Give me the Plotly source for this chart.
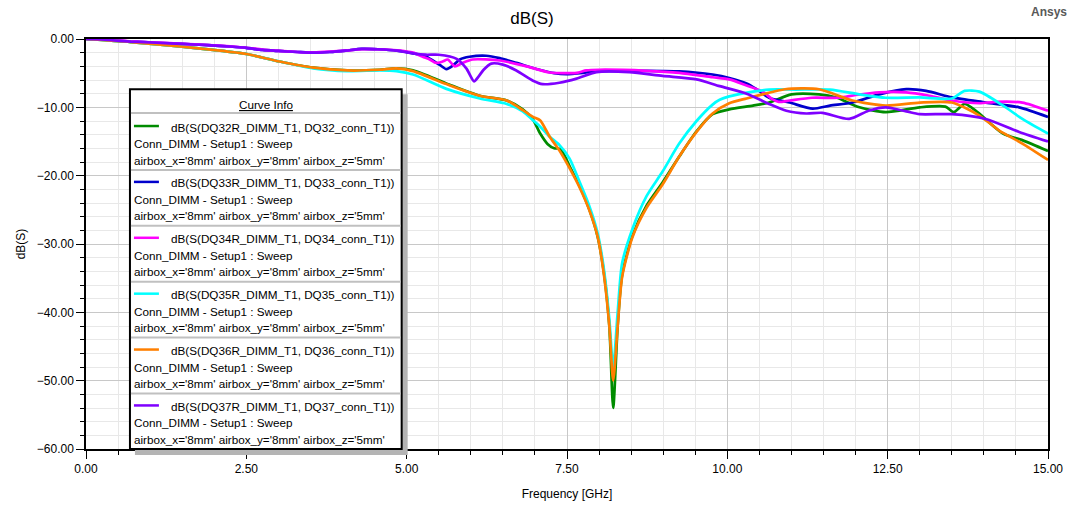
import plotly.graph_objects as go

# ---------------- data ----------------
series_names = [
    "dB(S(DQ32R_DIMM_T1, DQ32_conn_T1))",
    "dB(S(DQ33R_DIMM_T1, DQ33_conn_T1))",
    "dB(S(DQ34R_DIMM_T1, DQ34_conn_T1))",
    "dB(S(DQ35R_DIMM_T1, DQ35_conn_T1))",
    "dB(S(DQ36R_DIMM_T1, DQ36_conn_T1))",
    "dB(S(DQ37R_DIMM_T1, DQ37_conn_T1))",
]
setup_line = "Conn_DIMM - Setup1 : Sweep"
param_line = "airbox_x='8mm' airbox_y='8mm' airbox_z='5mm'"

f_dq32 = [0, 0.7, 1.46, 1.98, 2.5, 3.02, 3.54, 4.07, 4.58, 4.84, 5.1, 5.62, 6.14, 6.56, 6.81, 6.97,
          7.08, 7.2, 7.3, 7.4, 7.54, 7.7, 7.85, 7.98, 8.08, 8.16, 8.22, 8.29, 8.36, 8.52, 8.74, 8.99,
          9.25, 9.52, 9.77, 10.03, 10.4, 10.65, 11.0, 11.43, 11.7, 12.06, 12.47, 13.0, 13.4, 13.53,
          13.7, 13.9, 14.3, 14.6, 15.0]
db_dq32 = [0, -0.45, -1.1, -1.6, -2.2, -3.3, -4.2, -4.6, -4.5, -4.3, -4.6, -6.5, -8.3, -9.0, -10.3, -11.8,
           -13.8, -15.4, -16.0, -16.1, -18.6, -21.6, -25.0, -29.0, -34.5, -42.0, -54.0, -42.0, -34.5, -28.8, -24.4, -21.0,
           -17.2, -13.5, -11.0, -10.3, -9.75, -9.3, -8.1, -8.1, -8.55, -10.0, -10.7, -10.0, -9.9, -10.7,
           -9.5, -10.7, -13.85, -14.8, -16.4]

f_dq33 = [0, 0.35, 0.7, 1.1, 1.5, 1.9, 2.25, 2.5, 2.75, 3.0, 3.3, 3.55, 3.8, 4.05, 4.3, 4.55, 4.85, 5.1,
          5.3, 5.51, 5.62, 5.72, 5.83, 5.98, 6.24, 6.45, 6.71, 7.07, 7.3, 7.49, 7.8, 8.0, 8.5, 9.0, 9.25,
          9.5, 9.77, 10.03, 10.3, 10.45, 10.65, 10.97, 11.33, 11.6, 11.95, 12.37, 12.79, 13.1, 13.5, 14.03,
          14.55, 15.0]
db_dq33 = [0, -0.15, -0.38, -0.55, -0.72, -0.9, -1.1, -1.3, -1.6, -1.75, -1.9, -2.0, -1.9, -1.7, -1.45, -1.5, -1.7, -2.1,
           -2.55, -3.75, -4.4, -3.9, -3.0, -2.6, -2.45, -2.8, -3.5, -4.5, -5.0, -5.15, -4.9, -4.7, -4.65, -4.7, -4.75,
           -4.9, -5.2, -5.7, -6.5, -7.3, -8.6, -9.3, -10.2, -9.75, -9.3, -8.1, -7.35, -7.6, -8.55, -9.3,
           -10.0, -11.4]

f_dq34 = [0, 0.35, 0.7, 1.1, 1.5, 1.9, 2.25, 2.5, 2.75, 3.0, 3.3, 3.55, 3.8, 4.05, 4.3, 4.55, 4.85, 5.1,
          5.25, 5.36, 5.46, 5.56, 5.64, 5.75, 5.87, 6.03, 6.45, 6.87, 7.23, 7.65, 7.8, 8.0, 8.74, 9.25,
          9.77, 10.03, 10.3, 10.55, 10.7, 10.8, 10.97, 11.32, 11.74, 12.0, 12.37, 12.79, 13.15, 13.5,
          13.93, 14.19, 14.6, 15.0]
db_dq34 = [0, -0.12, -0.35, -0.52, -0.7, -0.88, -1.08, -1.28, -1.55, -1.75, -1.9, -1.95, -1.85, -1.7, -1.5, -1.5, -1.65, -2.0,
           -2.6, -3.0, -3.5, -3.3, -3.0, -4.0, -3.5, -3.0, -3.15, -4.0, -4.9, -4.95, -4.6, -4.5, -4.65, -4.95,
           -5.6, -5.9, -6.8, -7.7, -8.8, -9.2, -9.0, -8.6, -8.6, -8.2, -7.8, -7.8, -8.3, -9.0,
           -9.4, -9.2, -9.3, -10.5]

f_dq35 = [0, 0.7, 1.46, 1.98, 2.5, 3.02, 3.54, 4.07, 4.58, 4.84, 5.1, 5.62, 6.14, 6.56, 6.81, 6.97,
          7.08, 7.23, 7.38, 7.54, 7.7, 7.85, 7.98, 8.08, 8.16, 8.22, 8.29, 8.36, 8.52, 8.74, 8.99, 9.25,
          9.52, 9.77, 9.88, 10.03, 10.4, 10.65, 11.07, 11.6, 12.06, 12.47, 13.0, 13.5, 13.7, 13.93, 14.3,
          14.6, 15.0]
db_dq35 = [0, -0.45, -1.1, -1.6, -2.2, -3.3, -4.3, -4.7, -4.6, -4.7, -5.2, -7.3, -8.7, -9.5, -10.6, -11.9,
           -12.8, -14.3, -15.5, -17.5, -21.0, -24.5, -28.5, -34.0, -41.0, -48.0, -40.0, -32.8, -27.8, -23.0, -19.4, -15.3,
           -12.0, -9.6, -8.9, -8.4, -7.7, -7.4, -7.4, -7.4, -8.1, -8.6, -8.55, -8.7, -7.6, -7.7, -9.75,
           -11.7, -13.85]

f_dq36 = [0, 0.7, 1.46, 1.98, 2.5, 3.02, 3.54, 4.07, 4.58, 4.84, 5.1, 5.62, 6.14, 6.56, 6.81, 6.97,
          7.08, 7.23, 7.38, 7.54, 7.7, 7.85, 7.98, 8.08, 8.16, 8.22, 8.29, 8.36, 8.52, 8.74, 8.99, 9.25,
          9.52, 9.77, 10.03, 10.3, 10.55, 10.9, 11.43, 11.95, 12.47, 13.0, 13.5, 13.93, 14.24, 14.6, 15.0]
db_dq36 = [0, -0.45, -1.1, -1.6, -2.2, -3.3, -4.2, -4.6, -4.5, -4.3, -4.7, -6.6, -8.3, -9.0, -10.4, -11.4,
           -11.9, -14.3, -16.3, -18.9, -21.8, -25.1, -29.0, -34.8, -42.0, -50.0, -42.0, -34.8, -29.0, -24.7, -21.3, -17.2,
           -13.6, -10.9, -9.4, -8.7, -8.1, -7.35, -7.35, -9.0, -9.75, -9.3, -9.3, -11.2, -13.4, -15.3, -17.7]

f_dq37 = [0, 0.35, 0.7, 1.1, 1.5, 1.9, 2.25, 2.5, 2.75, 3.0, 3.3, 3.55, 3.8, 4.05, 4.3, 4.55, 4.85, 5.1,
          5.3, 5.5, 5.78, 5.93, 6.05, 6.12, 6.2, 6.32, 6.5, 6.71, 6.97, 7.12, 7.38, 7.65, 7.96, 8.47, 8.99,
          9.52, 9.88, 10.3, 10.65, 10.92, 11.23, 11.48, 11.9, 12.2, 12.47, 12.79, 13.0, 13.5, 14.03,
          14.55, 15.0]
db_dq37 = [0, -0.15, -0.38, -0.55, -0.72, -0.9, -1.1, -1.3, -1.6, -1.75, -1.9, -2.0, -1.9, -1.7, -1.45, -1.5, -1.7, -2.1,
           -2.3, -2.3, -2.9, -4.3, -6.2, -5.5, -4.5, -3.6, -3.75, -4.6, -6.1, -6.6, -6.4, -5.8, -4.85, -4.85, -5.4,
           -5.9, -6.9, -8.0, -9.5, -10.5, -10.9, -10.8, -11.7, -10.5, -10.0, -10.6, -11.0, -11.0, -11.7,
           -13.6, -15.0]

colors = ["#008C00", "#0000CC", "#FF00FF", "#00FFFF", "#FF7F00", "#7F00FF"]
freqs = [f_dq32, f_dq33, f_dq34, f_dq35, f_dq36, f_dq37]
values = [db_dq32, db_dq33, db_dq34, db_dq35, db_dq36, db_dq37]

x_ticks = [0, 2.5, 5, 7.5, 10, 12.5, 15]
y_ticks = [0, -10, -20, -30, -40, -50, -60]

# ---------------- layout geometry (pixels) ----------------
W, H = 1075, 511
L, R, T, B = 86, 1049, 39, 455
FONT = "Arial, Liberation Sans, sans-serif"


def px(x):
    return (x - L) / (R - L)


def py(y):
    return (B - y) / (B - T)


fig = go.Figure()
for name, fx, dy, c in zip(series_names, freqs, values, colors):
    fig.add_trace(go.Scatter(x=fx, y=dy, mode="lines", name=name,
                             line=dict(color=c, width=2.7, shape="spline", smoothing=0.7),
                             showlegend=False))

shapes = []
annotations = []

# legend box ("Curve Info")
bx0, bx1, by0, by1 = 130, 402, 90, 455
shapes.append(dict(type="rect", xref="paper", yref="paper", layer="above",
                   x0=px(bx0 + 5), x1=px(bx1 + 6), y0=py(by1 + 6), y1=py(by0 + 5),
                   fillcolor="#b4b4b4", line=dict(width=0)))
shapes.append(dict(type="rect", xref="paper", yref="paper", layer="above",
                   x0=px(bx0), x1=px(bx1), y0=py(by1), y1=py(by0),
                   fillcolor="white", line=dict(color="black", width=2)))
annotations.append(dict(xref="paper", yref="paper", x=px((bx0 + bx1) / 2), y=py(105),
                        text="<u>Curve Info</u>", showarrow=False, xanchor="center", yanchor="middle",
                        font=dict(family=FONT, size=11.7, color="black")))
shapes.append(dict(type="line", xref="paper", yref="paper", layer="above",
                   x0=px(bx0 + 1), x1=px(bx1 - 1), y0=py(114), y1=py(114),
                   line=dict(color="#c0c0c0", width=2)))

entry_h = 56.7
for i, (name, c) in enumerate(zip(series_names, colors)):
    y1 = 128.3 + i * entry_h
    shapes.append(dict(type="line", xref="paper", yref="paper", layer="above",
                       x0=px(134), x1=px(159), y0=py(y1 - 1), y1=py(y1 - 1),
                       line=dict(color=c, width=2.5)))
    annotations.append(dict(xref="paper", yref="paper", x=px(169), y=py(y1), text=name,
                            showarrow=False, xanchor="left", yanchor="middle",
                            font=dict(family=FONT, size=11.7, color="black")))
    annotations.append(dict(xref="paper", yref="paper", x=px(132), y=py(y1 + 16.8), text=setup_line,
                            showarrow=False, xanchor="left", yanchor="middle",
                            font=dict(family=FONT, size=11.7, color="black")))
    annotations.append(dict(xref="paper", yref="paper", x=px(132), y=py(y1 + 33.5), text=param_line,
                            showarrow=False, xanchor="left", yanchor="middle",
                            font=dict(family=FONT, size=11.7, color="black")))
    if i < len(series_names) - 1:
        ys = y1 + 43.5
        shapes.append(dict(type="line", xref="paper", yref="paper", layer="above",
                           x0=px(bx0 + 1), x1=px(bx1 - 1), y0=py(ys), y1=py(ys),
                           line=dict(color="#c0c0c0", width=2)))

# vendor tag
annotations.append(dict(xref="paper", yref="paper", x=px(1050), y=py(12), text="<b>Ansys</b>",
                        showarrow=False, xanchor="center", yanchor="middle",
                        font=dict(family=FONT, size=12, color="#595959")))

fig.update_layout(
    width=W, height=H,
    margin=dict(l=L, r=W - R, t=T, b=H - B, pad=0),
    paper_bgcolor="white", plot_bgcolor="white",
    font=dict(family=FONT, size=12, color="black"),
    title=dict(text="dB(S)", x=532 / W, xref="container", xanchor="center",
               y=1 - 18 / H, yref="container", yanchor="middle",
               font=dict(family=FONT, size=17, color="black")),
    shapes=shapes, annotations=annotations,
    showlegend=False,
)

fig.update_xaxes(
    range=[0, 15], tickvals=x_ticks, tickformat=".2f",
    showline=True, linecolor="black", linewidth=1.5, mirror=True,
    showgrid=True, gridcolor="#c8c8c8", gridwidth=1,
    ticks="outside", ticklen=8, tickcolor="black", tickwidth=1,
    minor=dict(dtick=0.5, showgrid=True, gridcolor="#e8e8e8", gridwidth=1,
               ticks="outside", ticklen=4, tickcolor="black"),
    zeroline=False,
    title=dict(text="Frequency [GHz]", standoff=14, font=dict(family=FONT, size=12)),
    tickfont=dict(family=FONT, size=12),
)
fig.update_yaxes(
    range=[-60, 0], tickvals=y_ticks, tickformat=".2f",
    showline=True, linecolor="black", linewidth=1.5, mirror=True,
    showgrid=True, gridcolor="#c8c8c8", gridwidth=1,
    ticks="outside", ticklen=8, tickcolor="black", tickwidth=1,
    minor=dict(dtick=2, showgrid=True, gridcolor="#e8e8e8", gridwidth=1,
               ticks="outside", ticklen=4, tickcolor="black"),
    zeroline=False,
    title=dict(text="dB(S)", standoff=9, font=dict(family=FONT, size=12)),
    tickfont=dict(family=FONT, size=12),
)

fig.write_html("out.html")
